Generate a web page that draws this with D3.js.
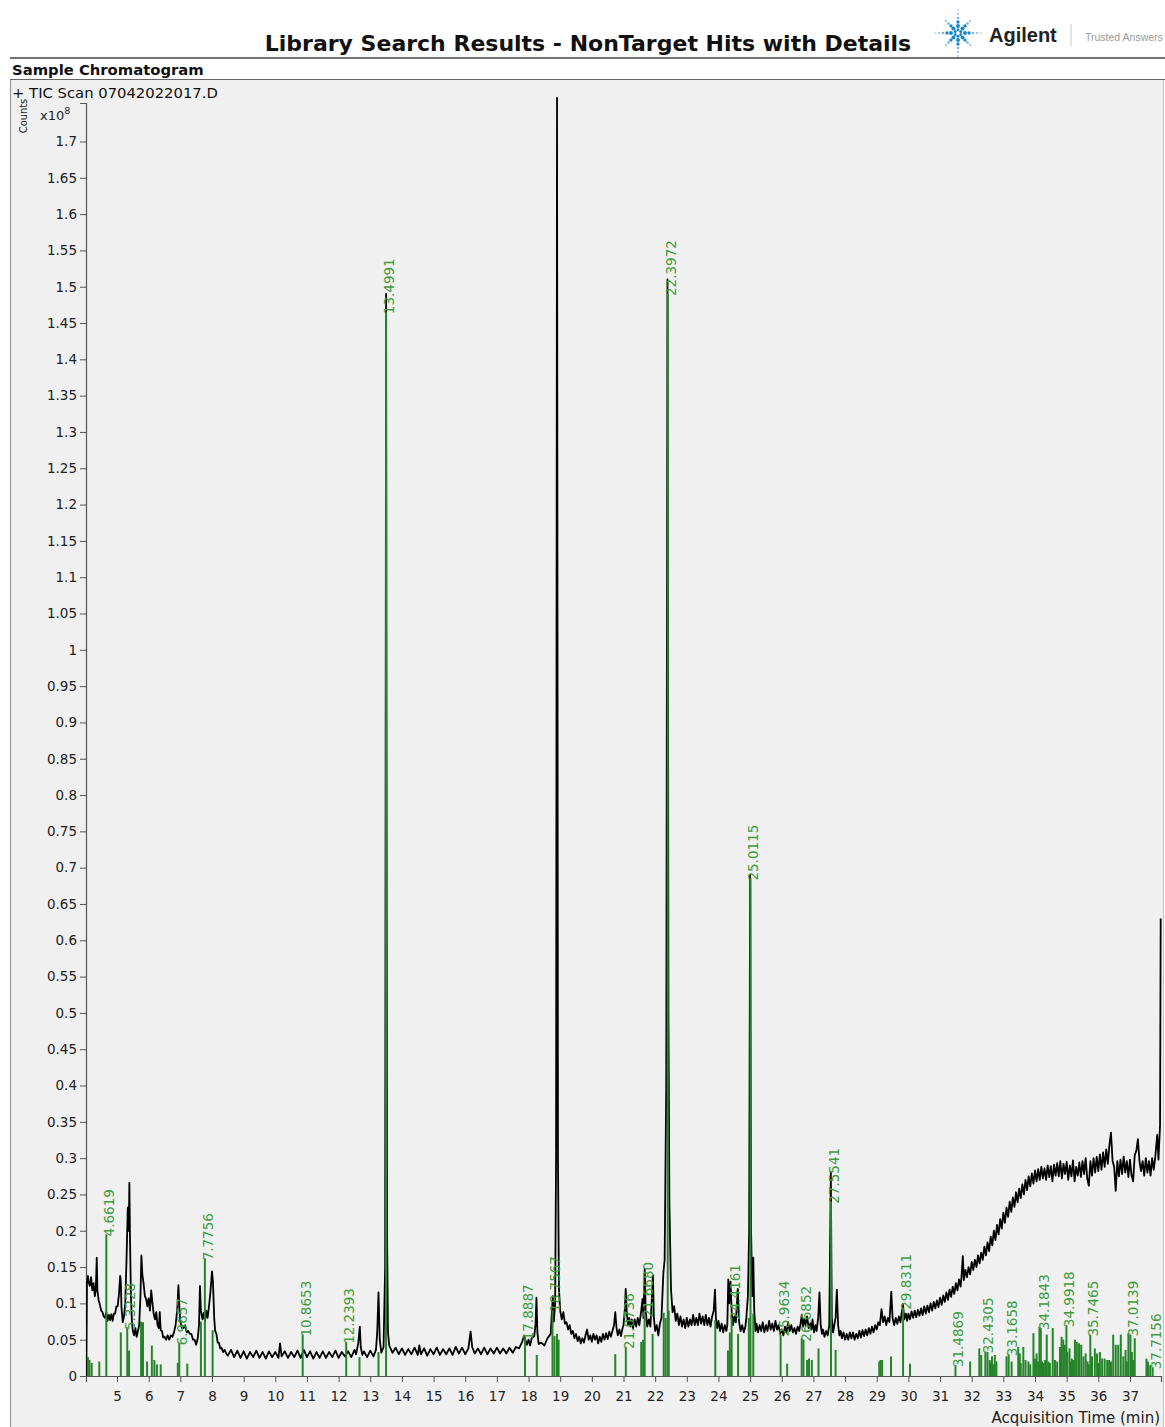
<!DOCTYPE html>
<html>
<head>
<meta charset="utf-8">
<script src="https://cdn.jsdelivr.net/npm/d3@7"></script>
<style>
  body { margin: 0; background: #ffffff; }
  svg { display: block; font-family: "DejaVu Sans", Verdana, sans-serif; }
</style>
</head>
<body>
<svg id="chart" width="1165" height="1427"></svg>
<script>
// ---- TIC trace: [retention time (min), counts x10^8] ----
const ticTrace = [
  [4.03,0.0],[4.05,0.128],[4.08,0.138],[4.1,0.13],[4.14,0.124],[4.18,0.136],[4.22,0.118],[4.26,0.128],[4.3,0.11],[4.33,0.12],[4.36,0.163],[4.38,0.118],
  [4.42,0.104],[4.46,0.098],[4.5,0.09],[4.54,0.088],[4.58,0.082],[4.62,0.08],[4.66,0.088],[4.7,0.076],[4.74,0.084],[4.78,0.077],
  [4.82,0.085],[4.86,0.076],[4.9,0.086],[4.94,0.086],[4.98,0.096],[5.02,0.096],[5.06,0.112],[5.1,0.138],[5.12,0.13],[5.14,0.095],
  [5.18,0.074],[5.22,0.082],[5.26,0.1],[5.3,0.16],[5.34,0.232],[5.37,0.2],[5.39,0.266],[5.41,0.19],[5.44,0.11],[5.47,0.075],
  [5.5,0.062],[5.54,0.056],[5.58,0.066],[5.62,0.054],[5.66,0.062],[5.7,0.07],[5.74,0.11],[5.77,0.166],[5.8,0.14],[5.84,0.127],
  [5.88,0.11],[5.92,0.106],[5.96,0.096],[6.0,0.107],[6.04,0.09],[6.08,0.118],[6.12,0.1],[6.16,0.085],[6.2,0.078],[6.24,0.088],
  [6.28,0.07],[6.32,0.066],[6.35,0.088],[6.38,0.063],[6.42,0.062],[6.46,0.053],[6.5,0.054],[6.55,0.05],[6.6,0.056],[6.65,0.05],
  [6.7,0.056],[6.75,0.054],[6.8,0.06],[6.85,0.07],[6.9,0.09],[6.94,0.125],[6.97,0.095],[7.0,0.075],[7.05,0.066],[7.1,0.066],
  [7.15,0.07],[7.2,0.06],[7.25,0.062],[7.3,0.058],[7.35,0.058],[7.4,0.05],[7.45,0.05],[7.5,0.043],[7.55,0.052],[7.59,0.07],
  [7.62,0.124],[7.65,0.09],[7.7,0.078],[7.74,0.087],[7.78,0.076],[7.82,0.09],[7.86,0.08],[7.9,0.094],[7.95,0.115],[8.0,0.144],
  [8.03,0.13],[8.07,0.08],[8.1,0.062],[8.14,0.058],[8.18,0.046],[8.22,0.046],[8.26,0.038],[8.3,0.039],[8.35,0.033],[8.4,0.036],
  [8.45,0.031],[8.5,0.028],[8.6,0.036],[8.7,0.026],[8.8,0.035],[8.9,0.025],[9.0,0.034],[9.1,0.024],[9.2,0.033],[9.3,0.026],
  [9.4,0.035],[9.5,0.025],[9.6,0.033],[9.7,0.024],[9.8,0.034],[9.9,0.026],[10.0,0.033],[10.1,0.025],[10.15,0.045],[10.2,0.027],
  [10.3,0.034],[10.4,0.025],[10.5,0.033],[10.6,0.026],[10.7,0.035],[10.8,0.025],[10.9,0.036],[11.0,0.026],[11.1,0.034],[11.2,0.024],
  [11.3,0.033],[11.4,0.025],[11.5,0.034],[11.6,0.025],[11.7,0.033],[11.8,0.026],[11.9,0.035],[12.0,0.025],[12.1,0.033],[12.2,0.027],
  [12.3,0.034],[12.4,0.026],[12.5,0.036],[12.55,0.03],[12.62,0.045],[12.67,0.068],[12.7,0.04],[12.75,0.029],[12.8,0.034],[12.9,0.026],
  [13.0,0.035],[13.1,0.027],[13.18,0.036],[13.22,0.06],[13.26,0.115],[13.3,0.05],[13.35,0.032],[13.42,0.04],[13.47,0.15],[13.5,1.49],
  [13.53,0.2],[13.56,0.06],[13.6,0.042],[13.7,0.032],[13.8,0.039],[13.9,0.03],[14.0,0.038],[14.1,0.029],[14.2,0.037],[14.3,0.03],
  [14.4,0.039],[14.5,0.029],[14.55,0.042],[14.6,0.03],[14.7,0.038],[14.8,0.028],[14.9,0.037],[15.0,0.03],[15.1,0.039],[15.2,0.029],
  [15.3,0.037],[15.4,0.03],[15.5,0.038],[15.6,0.029],[15.7,0.04],[15.8,0.031],[15.9,0.039],[16.0,0.03],[16.1,0.038],[16.17,0.061],
  [16.22,0.04],[16.3,0.031],[16.4,0.038],[16.5,0.03],[16.6,0.039],[16.7,0.03],[16.8,0.038],[16.9,0.031],[17.0,0.039],[17.1,0.031],
  [17.2,0.038],[17.3,0.031],[17.4,0.039],[17.5,0.032],[17.6,0.04],[17.7,0.038],[17.8,0.047],[17.86,0.056],[17.9,0.05],[17.95,0.043],
  [18.0,0.05],[18.05,0.042],[18.1,0.052],[18.18,0.055],[18.22,0.07],[18.25,0.108],[18.28,0.06],[18.32,0.044],[18.4,0.046],[18.5,0.042],
  [18.6,0.052],[18.7,0.058],[18.74,0.09],[18.77,0.11],[18.8,0.075],[18.84,0.1],[18.87,0.3],[18.9,1.76],[18.93,0.3],[18.96,0.12],
  [19.0,0.09],[19.05,0.078],[19.1,0.088],[19.15,0.072],[19.2,0.074],[19.25,0.064],[19.3,0.07],[19.35,0.058],[19.4,0.062],[19.45,0.052],
  [19.5,0.058],[19.55,0.048],[19.6,0.054],[19.65,0.045],[19.7,0.052],[19.75,0.046],[19.8,0.056],[19.85,0.064],[19.9,0.05],[19.95,0.056],
  [20.0,0.047],[20.05,0.058],[20.1,0.05],[20.15,0.056],[20.2,0.045],[20.25,0.054],[20.3,0.047],[20.35,0.058],[20.4,0.05],[20.45,0.059],
  [20.5,0.051],[20.55,0.061],[20.6,0.054],[20.65,0.062],[20.7,0.07],[20.74,0.088],[20.78,0.066],[20.82,0.056],[20.87,0.064],[20.92,0.055],
  [20.97,0.066],[21.0,0.07],[21.04,0.09],[21.07,0.12],[21.1,0.09],[21.14,0.07],[21.18,0.08],[21.22,0.068],[21.26,0.078],[21.3,0.066],
  [21.35,0.078],[21.4,0.068],[21.45,0.08],[21.5,0.07],[21.56,0.09],[21.6,0.106],[21.63,0.08],[21.67,0.148],[21.7,0.09],[21.75,0.068],
  [21.8,0.078],[21.85,0.068],[21.9,0.11],[21.93,0.139],[21.96,0.08],[22.0,0.062],[22.05,0.07],[22.1,0.056],[22.15,0.072],[22.2,0.08],
  [22.26,0.142],[22.3,0.16],[22.35,0.4],[22.39,1.51],[22.42,0.5],[22.45,0.24],[22.5,0.12],[22.55,0.088],[22.6,0.096],[22.65,0.076],
  [22.7,0.086],[22.75,0.07],[22.8,0.082],[22.85,0.068],[22.9,0.078],[22.95,0.066],[23.0,0.08],[23.05,0.068],[23.1,0.078],[23.15,0.07],
  [23.2,0.084],[23.25,0.07],[23.3,0.08],[23.35,0.07],[23.4,0.086],[23.45,0.072],[23.5,0.082],[23.55,0.07],[23.6,0.084],[23.65,0.07],
  [23.7,0.08],[23.75,0.068],[23.8,0.082],[23.85,0.09],[23.89,0.119],[23.92,0.08],[23.96,0.066],[24.0,0.076],[24.05,0.062],[24.1,0.072],
  [24.15,0.06],[24.2,0.07],[24.25,0.062],[24.28,0.07],[24.31,0.133],[24.34,0.1],[24.38,0.13],[24.42,0.085],[24.46,0.07],[24.5,0.082],
  [24.55,0.074],[24.61,0.12],[24.65,0.075],[24.7,0.062],[24.75,0.07],[24.8,0.06],[24.85,0.068],[24.88,0.08],[24.93,0.11],[24.97,0.2],
  [25.0,0.69],[25.03,0.2],[25.07,0.11],[25.1,0.163],[25.13,0.09],[25.17,0.062],[25.2,0.072],[25.25,0.06],[25.3,0.07],[25.35,0.062],
  [25.4,0.074],[25.45,0.06],[25.5,0.07],[25.55,0.062],[25.6,0.076],[25.65,0.064],[25.7,0.072],[25.75,0.062],[25.8,0.076],[25.85,0.064],
  [25.9,0.07],[25.95,0.058],[26.0,0.064],[26.05,0.056],[26.1,0.068],[26.15,0.06],[26.2,0.074],[26.25,0.062],[26.3,0.07],[26.35,0.06],
  [26.4,0.066],[26.45,0.058],[26.5,0.068],[26.55,0.062],[26.6,0.074],[26.63,0.084],[26.67,0.068],[26.71,0.078],[26.75,0.07],[26.8,0.082],
  [26.85,0.066],[26.9,0.072],[26.94,0.064],[26.97,0.078],[27.02,0.06],[27.06,0.07],[27.1,0.062],[27.15,0.08],[27.19,0.115],[27.23,0.07],
  [27.27,0.058],[27.3,0.064],[27.35,0.054],[27.4,0.062],[27.45,0.056],[27.5,0.07],[27.55,0.28],[27.58,0.08],[27.62,0.06],[27.66,0.07],
  [27.7,0.08],[27.74,0.119],[27.78,0.07],[27.82,0.056],[27.86,0.062],[27.9,0.052],[27.95,0.06],[28.0,0.05],[28.05,0.058],[28.1,0.05],
  [28.15,0.06],[28.2,0.052],[28.25,0.06],[28.3,0.05],[28.35,0.058],[28.4,0.052],[28.45,0.062],[28.5,0.053],[28.55,0.063],[28.6,0.055],
  [28.65,0.064],[28.7,0.056],[28.75,0.066],[28.8,0.058],[28.85,0.068],[28.9,0.06],[28.95,0.07],[29.0,0.064],[29.05,0.074],[29.1,0.07],
  [29.15,0.092],[29.2,0.074],[29.25,0.082],[29.3,0.07],[29.35,0.08],[29.4,0.074],[29.46,0.116],[29.5,0.08],[29.55,0.07],[29.6,0.08],
  [29.65,0.072],[29.7,0.082],[29.75,0.074],[29.78,0.085],[29.83,0.098],[29.87,0.078],[29.92,0.086],[29.96,0.076],[30.0,0.086],[30.05,0.078],
  [30.1,0.089],[30.15,0.08],[30.2,0.09],[30.25,0.081],[30.3,0.091],[30.35,0.083],[30.4,0.093],[30.45,0.084],[30.5,0.096],[30.55,0.086],
  [30.6,0.097],[30.65,0.088],[30.7,0.1],[30.75,0.09],[30.8,0.102],[30.85,0.093],[30.9,0.104],[30.95,0.095],[31.0,0.108],[31.05,0.098],
  [31.1,0.111],[31.15,0.102],[31.2,0.115],[31.25,0.105],[31.3,0.119],[31.35,0.109],[31.4,0.123],[31.45,0.113],[31.5,0.128],[31.55,0.118],
  [31.6,0.133],[31.65,0.123],[31.68,0.138],[31.72,0.165],[31.75,0.132],[31.8,0.146],[31.85,0.136],[31.9,0.15],[31.95,0.14],[32.0,0.157],
  [32.05,0.146],[32.1,0.16],[32.15,0.15],[32.2,0.166],[32.25,0.155],[32.3,0.17],[32.35,0.16],[32.4,0.178],[32.45,0.166],[32.5,0.184],
  [32.55,0.172],[32.6,0.192],[32.65,0.18],[32.7,0.2],[32.75,0.187],[32.8,0.208],[32.85,0.195],[32.9,0.216],[32.95,0.203],[33.0,0.225],
  [33.05,0.211],[33.1,0.232],[33.15,0.219],[33.2,0.24],[33.25,0.226],[33.3,0.246],[33.35,0.233],[33.4,0.253],[33.45,0.239],[33.5,0.258],
  [33.55,0.245],[33.6,0.264],[33.65,0.25],[33.7,0.27],[33.75,0.256],[33.8,0.275],[33.85,0.261],[33.9,0.279],[33.95,0.265],[34.0,0.283],
  [34.05,0.268],[34.1,0.285],[34.15,0.27],[34.2,0.288],[34.25,0.272],[34.3,0.286],[34.35,0.27],[34.4,0.29],[34.45,0.274],[34.5,0.289],
  [34.55,0.268],[34.6,0.291],[34.65,0.276],[34.7,0.293],[34.75,0.275],[34.8,0.296],[34.85,0.272],[34.9,0.292],[34.95,0.278],[35.0,0.295],
  [35.05,0.27],[35.1,0.29],[35.15,0.275],[35.2,0.297],[35.25,0.268],[35.3,0.288],[35.35,0.276],[35.4,0.294],[35.45,0.274],[35.5,0.296],
  [35.55,0.278],[35.6,0.3],[35.65,0.272],[35.7,0.262],[35.75,0.296],[35.8,0.276],[35.85,0.3],[35.9,0.28],[35.95,0.302],[36.0,0.282],
  [36.05,0.305],[36.1,0.284],[36.15,0.308],[36.2,0.288],[36.25,0.312],[36.3,0.292],[36.35,0.318],[36.4,0.335],[36.45,0.296],[36.5,0.288],
  [36.55,0.255],[36.6,0.296],[36.65,0.275],[36.7,0.298],[36.75,0.278],[36.8,0.302],[36.85,0.28],[36.9,0.296],[36.95,0.274],[37.0,0.298],
  [37.05,0.276],[37.1,0.268],[37.15,0.304],[37.2,0.31],[37.25,0.326],[37.3,0.296],[37.35,0.282],[37.4,0.296],[37.45,0.276],[37.5,0.3],
  [37.55,0.28],[37.6,0.296],[37.65,0.276],[37.7,0.3],[37.75,0.284],[37.8,0.302],[37.86,0.332],[37.9,0.298],[37.95,0.345],[37.97,0.63]
];

// ---- Library hits with retention-time labels: [RT (min), height x10^8] ----
const labelledHits = [
  [4.6619,0.195],[5.3228,0.066],[6.9657,0.045],[7.7756,0.162],[10.8653,0.057],[12.2393,0.047],
  [13.4991,1.465],[17.8887,0.052],[18.7567,0.091],[21.0736,0.04],[21.6680,0.083],[22.3972,1.49],
  [24.4161,0.08],[25.0115,0.685],[25.9634,0.057],[26.6852,0.05],[27.5541,0.24],[29.8311,0.094],
  [31.4869,0.015],[32.4305,0.034],[33.1658,0.03],[34.1843,0.066],[34.9918,0.07],[35.7465,0.057],
  [37.0139,0.057],[37.7156,0.012]
];

// ---- Further hits drawn without labels: [RT (min), height x10^8] ----
const otherHits = [
  [4.08,0.026],[4.13,0.022],[4.2,0.018],[4.44,0.02],[5.12,0.06],[5.38,0.035],[5.76,0.075],[5.82,0.074],
  [5.95,0.02],[6.1,0.042],[6.18,0.022],[6.26,0.016],[6.38,0.016],[6.92,0.018],[7.22,0.017],[7.65,0.075],
  [8.02,0.063],[12.66,0.026],[13.26,0.033],[18.26,0.029],[18.82,0.055],[18.9,0.058],[18.95,0.05],[20.74,0.03],
  [21.56,0.047],[21.62,0.05],[21.92,0.058],[22.27,0.087],[22.33,0.08],[22.43,0.09],[23.9,0.077],[24.3,0.035],
  [24.36,0.06],[24.62,0.058],[24.96,0.08],[25.1,0.086],[26.17,0.017],[26.63,0.052],[26.8,0.022],[26.86,0.024],
  [26.95,0.022],[27.16,0.038],[27.7,0.036],[29.08,0.02],[29.12,0.022],[29.17,0.022],[29.45,0.027],[30.05,0.017],
  [31.95,0.02],[32.24,0.038],[32.3,0.029],[32.5,0.033],[32.57,0.022],[32.6,0.018],[32.64,0.027],[32.68,0.016],
  [32.73,0.029],[32.78,0.02],[33.1,0.027],[33.26,0.02],[33.47,0.04],[33.52,0.031],[33.55,0.018],[33.63,0.04],
  [33.7,0.022],[33.79,0.02],[33.85,0.016],[33.95,0.059],[34.0,0.024],[34.05,0.031],[34.1,0.02],[34.14,0.068],
  [34.22,0.02],[34.27,0.018],[34.32,0.022],[34.37,0.057],[34.42,0.02],[34.47,0.018],[34.56,0.066],[34.63,0.022],
  [34.7,0.02],[34.79,0.04],[34.84,0.054],[34.89,0.05],[34.94,0.043],[35.02,0.033],[35.09,0.038],[35.12,0.02],
  [35.16,0.024],[35.2,0.022],[35.26,0.05],[35.32,0.047],[35.39,0.045],[35.46,0.043],[35.53,0.027],[35.6,0.031],
  [35.66,0.02],[35.7,0.016],[35.8,0.027],[35.89,0.038],[35.96,0.031],[36.0,0.018],[36.05,0.033],[36.12,0.024],
  [36.2,0.024],[36.28,0.022],[36.34,0.022],[36.4,0.02],[36.47,0.057],[36.55,0.043],[36.63,0.043],[36.71,0.057],
  [36.79,0.027],[36.86,0.036],[36.9,0.02],[36.95,0.059],[37.06,0.033],[37.1,0.022],[37.15,0.052],[37.52,0.024],
  [37.57,0.02],[37.64,0.015]
];

// ---- Axis ticks ----
const xTickValues = [5,6,7,8,9,10,11,12,13,14,15,16,17,18,19,20,21,22,23,24,25,26,27,28,29,30,31,32,33,34,35,36,37];
const yTickValues = [0,0.05,0.1,0.15,0.2,0.25,0.3,0.35,0.4,0.45,0.5,0.55,0.6,0.65,0.7,0.75,0.8,0.85,0.9,0.95,
                     1,1.05,1.1,1.15,1.2,1.25,1.3,1.35,1.4,1.45,1.5,1.55,1.6,1.65,1.7];
const xDomain = [4.02, 37.98];
const yDomain = [0, 1.753];

const svg = d3.select("#chart");

// ---- Report header ----
svg.append("text")
  .attr("x", 588).attr("y", 51)
  .attr("text-anchor", "middle")
  .attr("font-size", 22).attr("font-weight", "bold").attr("fill", "#111")
  .text("Library Search Results - NonTarget Hits with Details");

// Agilent spark logo
const logo = svg.append("g").attr("transform", "translate(958,33)");
const rays = d3.range(8).map(i => i * Math.PI / 4);
rays.forEach((a, i) => {
  const long = i % 2 === 0;
  const radii = long ? [7, 11, 15, 19, 23] : [6.5, 10, 13.5, 17];
  radii.forEach((r, j) => {
    logo.append("circle")
      .attr("cx", r * Math.cos(a)).attr("cy", r * Math.sin(a))
      .attr("r", Math.max(0.7, 2.0 - j * 0.35))
      .attr("fill", j < 2 ? "#1a86d0" : "#6db6e8");
  });
});
d3.range(6).forEach(i => {
  const a = i * Math.PI / 3 + Math.PI / 6;
  logo.append("circle").attr("cx", 3.2 * Math.cos(a)).attr("cy", 3.2 * Math.sin(a))
    .attr("r", 1.5).attr("fill", "#1a86d0");
});
svg.append("text").attr("x", 989).attr("y", 42)
  .attr("font-size", 20).attr("font-weight", "bold").attr("fill", "#222")
  .attr("font-family", "'Liberation Sans', Arial, sans-serif")
  .text("Agilent");
svg.append("line").attr("x1", 1071).attr("x2", 1071).attr("y1", 24).attr("y2", 46)
  .attr("stroke", "#c8c8c8").attr("stroke-width", 1);
svg.append("text").attr("x", 1085).attr("y", 41)
  .attr("font-size", 10.5).attr("fill", "#9a9a9a")
  .attr("font-family", "'Liberation Sans', Arial, sans-serif")
  .text("Trusted Answers");

// Section rules
svg.append("line").attr("x1", 10).attr("x2", 1165).attr("y1", 58).attr("y2", 58)
  .attr("stroke", "#444").attr("stroke-width", 1.5);
svg.append("text").attr("x", 12).attr("y", 75)
  .attr("font-size", 14.8).attr("font-weight", "bold").attr("fill", "#111")
  .text("Sample Chromatogram");

// Chromatogram panel
svg.append("rect").attr("x", 10).attr("y", 80).attr("width", 1153).attr("height", 1347)
  .attr("fill", "#f0f0f0");
svg.append("line").attr("x1", 10).attr("x2", 1165).attr("y1", 79.5).attr("y2", 79.5)
  .attr("stroke", "#666").attr("stroke-width", 1.2);
svg.append("line").attr("x1", 10.5).attr("x2", 10.5).attr("y1", 80).attr("y2", 1427)
  .attr("stroke", "#999").attr("stroke-width", 1.2);
svg.append("line").attr("x1", 1163.5).attr("x2", 1163.5).attr("y1", 80).attr("y2", 1427)
  .attr("stroke", "#c4c4c4").attr("stroke-width", 1);

svg.append("text").attr("x", 12).attr("y", 98)
  .attr("font-size", 14.8).attr("fill", "#111")
  .text("+ TIC Scan 07042022017.D");

// ---- Scales ----
const plotLeft = 86, plotRight = 1161, plotTop = 103, plotBottom = 1376;
const x = d3.scaleLinear().domain(xDomain).range([plotLeft, plotRight]);
const y = d3.scaleLinear().domain(yDomain).range([plotBottom, plotTop]);

// Axes
const yAxis = svg.append("g").attr("transform", `translate(${plotLeft},0)`)
  .call(d3.axisLeft(y).tickValues(yTickValues).tickFormat(d => String(d))
    .tickSizeInner(6).tickSizeOuter(6).tickPadding(3));
const xAxis = svg.append("g").attr("transform", `translate(0,${plotBottom})`)
  .call(d3.axisBottom(x).tickValues(xTickValues).tickFormat(d => String(d))
    .tickSizeInner(6).tickSizeOuter(6).tickPadding(9));
[xAxis, yAxis].forEach(g => {
  g.selectAll("path.domain").attr("stroke", "#555").attr("stroke-width", 1.2);
  g.selectAll(".tick line").attr("stroke", "#555");
  g.selectAll(".tick text").attr("fill", "#222").attr("font-size", 13.5)
    .attr("font-family", "'DejaVu Sans', Verdana, sans-serif");
});

svg.append("text")
  .attr("transform", "translate(27,116) rotate(-90)")
  .attr("text-anchor", "middle").attr("font-size", 11).attr("fill", "#222")
  .attr("font-family", "'DejaVu Sans Condensed', 'DejaVu Sans', sans-serif")
  .text("Counts");
const expo = svg.append("text").attr("x", 40).attr("y", 120).attr("font-size", 13).attr("fill", "#222");
expo.append("tspan").text("x10");
expo.append("tspan").attr("dy", -6).attr("font-size", 9.5).text("8");

svg.append("text").attr("x", 1160).attr("y", 1423)
  .attr("text-anchor", "end").attr("font-size", 15).attr("fill", "#222")
  .text("Acquisition Time (min)");

// ---- TIC trace ----
svg.append("defs").append("clipPath").attr("id", "plotClip")
  .append("rect").attr("x", plotLeft).attr("y", 96).attr("width", plotRight - plotLeft + 2).attr("height", plotBottom - 96);

const plot = svg.append("g").attr("clip-path", "url(#plotClip)");
plot.append("path")
  .datum(ticTrace)
  .attr("fill", "none").attr("stroke", "#000").attr("stroke-width", 1.8)
  .attr("stroke-linejoin", "round")
  .attr("d", d3.line().x(d => x(d[0])).y(d => y(d[1])));

// ---- Hit markers ----
const hitColor = "#26842a";
plot.selectAll("line.hit")
  .data(otherHits.concat(labelledHits))
  .join("line").attr("class", "hit")
  .attr("x1", d => x(d[0])).attr("x2", d => x(d[0]))
  .attr("y1", y(0)).attr("y2", d => y(d[1]))
  .attr("stroke", hitColor).attr("stroke-width", 2);

svg.selectAll("text.hitLabel")
  .data(labelledHits)
  .join("text").attr("class", "hitLabel")
  .attr("transform", d => `translate(${x(d[0]) + 8},${y(d[1]) + 2}) rotate(-90)`)
  .attr("font-size", 13.5).attr("fill", "#3f9c3f")
  .text(d => d[0].toFixed(4));
</script>
</body>
</html>
